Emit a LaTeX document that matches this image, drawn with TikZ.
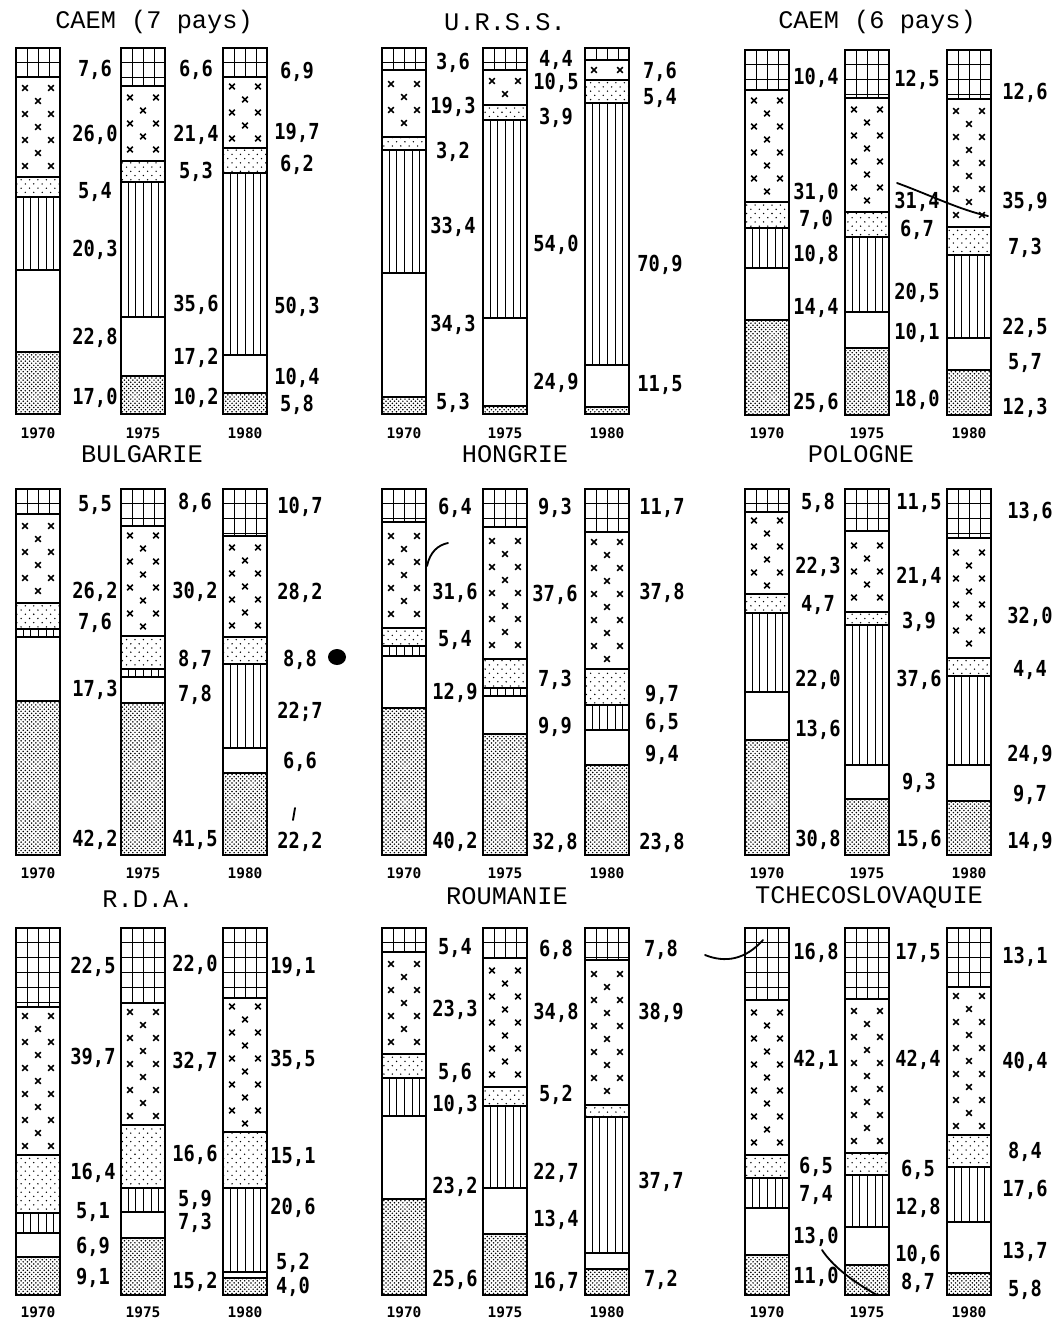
\documentclass[tikz,border=0pt]{standalone}
\usepackage{fontspec}
\usepackage{graphicx}
\usetikzlibrary{patterns}
\newfontfamily\numfont{DejaVu Sans Mono}
\newfontfamily\titfont{Liberation Mono}

\pgfdeclarepatternformonly{ddots}{\pgfqpoint{-0.7pt}{-0.7pt}}{\pgfqpoint{2.2pt}{2.2pt}}{\pgfqpoint{3pt}{3pt}}{%
  \pgfpathcircle{\pgfqpoint{0pt}{0pt}}{0.6pt}\pgfpathcircle{\pgfqpoint{1.5pt}{1.5pt}}{0.6pt}\pgfusepath{fill}}
\pgfdeclarepatternformonly{sdots}{\pgfqpoint{-0.7pt}{-0.7pt}}{\pgfqpoint{3.7pt}{3.7pt}}{\pgfqpoint{6pt}{6pt}}{%
  \pgfpathcircle{\pgfqpoint{0pt}{0pt}}{0.55pt}\pgfpathcircle{\pgfqpoint{3pt}{3pt}}{0.55pt}\pgfusepath{fill}}

\tikzset{
  gridln/.style={line width=0.7pt},
  vln/.style={line width=0.7pt},
  crossln/.style={line width=1.2pt},
  sepln/.style={line width=1.1pt},
  outln/.style={line width=1.4pt},
  num/.style={inner sep=0pt, font=\numfont\bfseries\fontsize{13.3}{14}\selectfont},
  yr/.style={inner sep=0pt, font=\numfont\bfseries\fontsize{10.3}{11}\selectfont},
  ttl/.style={inner sep=0pt, font=\titfont\fontsize{18}{20}\selectfont},
  stroke/.style={line width=1.3pt, line cap=round},
}

\newcommand\crs[2]{\draw[crossln] (#1-2.8,#2-2.8) -- (#1+2.8,#2+2.8) (#1-2.8,#2+2.8) -- (#1+2.8,#2-2.8);}

% #1 x, #2 top, #3 bottom, #4 G/X, #5 X/S, #6 S/V, #7 V/W, #8 W/D
\newcommand\drawbar[8]{%
  \pgfmathsetmacro\xr{#1+44}
  \begin{scope}
    \clip (#1,#2) rectangle (\xr,#4);
    \foreach \dx in {11,22,33} \draw[gridln] (#1+\dx,#2) -- (#1+\dx,#4);
    \foreach \dy in {14,29,...,134} \draw[gridln] (#1,#2+\dy) -- (\xr,#2+\dy);
  \end{scope}
  \pgfmathsetmacro\hx{#5-#4}
  \pgfmathtruncatemacro\nrow{max(1,floor((\hx-4)/13))}
  \pgfmathsetmacro\yzero{#4+(\hx-(\nrow-1)*13)/2}
  \foreach \k in {1,...,\nrow} {%
    \pgfmathsetmacro\yy{\yzero+(\k-1)*13}
    \ifodd\k\relax \crs{#1+9}{\yy}\crs{#1+35}{\yy}\else\crs{#1+22}{\yy}\fi
  }
  \fill[pattern=sdots] (#1,#5) rectangle (\xr,#6);
  \foreach \dx in {7,14,22,30,37} \draw[vln] (#1+\dx,#6) -- (#1+\dx,#7);
  \fill[pattern=ddots] (#1,#8) rectangle (\xr,#3);
  \draw[sepln] (#1,#4) -- (\xr,#4) (#1,#5) -- (\xr,#5) (#1,#6) -- (\xr,#6)
               (#1,#7) -- (\xr,#7) (#1,#8) -- (\xr,#8);
  \draw[outln] (#1,#2) rectangle (\xr,#3);
}

\newcommand\lbls[3]{\foreach \lab/\yy [count=\i] in {#3} {\node[num] (#1-\i) at (#2,\yy) {\scalebox{1}[1.18]{\lab}};}}

\begin{document}
\begin{tikzpicture}[x=0.025cm, y=-0.025cm]
\useasboundingbox (0,0) rectangle (1057,1323);
\fill[white] (0,0) rectangle (1057,1323);

% ---------- titles ----------
\node[ttl] (t1) at (154,22) {CAEM (7 pays)};
\node[ttl] (t2) at (505,22) {U.R.S.S.};
\node[ttl] (t3) at (877,22) {CAEM (6 pays)};
\node[ttl] (t4) at (142,454) {BULGARIE};
\node[ttl] (t5) at (515,454) {HONGRIE};
\node[ttl] (t6) at (861,454) {POLOGNE};
\node[ttl] (t7) at (148,899) {R.D.A.};
\node[ttl] (t8) at (507,896) {ROUMANIE};
\node[ttl] (t9) at (869,897) {TCHECOSLOVAQUIE};

% ---------- row 1 ----------
\drawbar{16}{48}{414}{77}{177}{197}{270}{352}
\drawbar{121}{48}{414}{86}{161}{182}{317}{376}
\drawbar{223}{48}{414}{77}{148}{173}{355}{393}
\drawbar{382}{48}{414}{70}{137}{150}{273}{397}
\drawbar{483}{48}{414}{70}{105}{120}{318}{406}
\drawbar{585}{48}{414}{60}{80}{103}{365}{407}
\drawbar{745}{50}{415}{90}{202}{228}{268}{320}
\drawbar{845}{50}{415}{98}{212}{237}{312}{348}
\drawbar{947}{50}{415}{99}{227}{255}{338}{370}

\lbls{a1}{95}{{7,6}/70,{26,0}/135,{5,4}/192,{20,3}/250,{22,8}/338,{17,0}/398}
\lbls{a2}{196}{{6,6}/70,{21,4}/135,{5,3}/172,{35,6}/305,{17,2}/358,{10,2}/398}
\lbls{a3}{297}{{6,9}/72,{19,7}/133,{6,2}/165,{50,3}/307,{10,4}/378,{5,8}/405}
\lbls{b1}{453}{{3,6}/63,{19,3}/107,{3,2}/152,{33,4}/227,{34,3}/325,{5,3}/403}
\lbls{b2}{556}{{4,4}/60,{10,5}/83,{3,9}/118,{54,0}/245,{24,9}/383}
\lbls{b3}{660}{{7,6}/72,{5,4}/98,{70,9}/265,{11,5}/385}
\lbls{c1}{816}{{10,4}/78,{31,0}/193,{7,0}/220,{10,8}/255,{14,4}/308,{25,6}/403}
\lbls{c2}{917}{{12,5}/80,{31,4}/202,{6,7}/230,{20,5}/293,{10,1}/333,{18,0}/400}
\lbls{c3}{1025}{{12,6}/93,{35,9}/202,{7,3}/248,{22,5}/328,{5,7}/363,{12,3}/408}

% ---------- row 2 ----------
\drawbar{16}{489}{855}{514}{603}{629}{637}{701}
\drawbar{121}{489}{855}{526}{636}{669}{677}{703}
\drawbar{223}{489}{855}{536}{637}{664}{748}{773}
\drawbar{382}{489}{855}{522}{628}{646}{656}{708}
\drawbar{483}{489}{855}{527}{659}{688}{696}{734}
\drawbar{585}{489}{855}{532}{669}{705}{730}{765}
\drawbar{745}{489}{855}{512}{594}{613}{692}{740}
\drawbar{845}{489}{855}{531}{612}{625}{765}{799}
\drawbar{947}{489}{855}{538}{658}{676}{765}{801}

\lbls{d1}{95}{{5,5}/505,{26,2}/592,{7,6}/623,{17,3}/690,{42,2}/840}
\lbls{d2}{195}{{8,6}/503,{30,2}/592,{8,7}/660,{7,8}/695,{41,5}/840}
\lbls{d3}{300}{{10,7}/507,{28,2}/593,{8,8}/660,{22;7}/712,{6,6}/762,{22,2}/842}
\lbls{e1}{455}{{6,4}/508,{31,6}/593,{5,4}/640,{12,9}/693,{40,2}/842}
\lbls{e2}{555}{{9,3}/508,{37,6}/595,{7,3}/680,{9,9}/727,{32,8}/843}
\lbls{e3}{662}{{11,7}/508,{37,8}/593,{9,7}/695,{6,5}/723,{9,4}/755,{23,8}/843}
\lbls{f1}{818}{{5,8}/503,{22,3}/567,{4,7}/605,{22,0}/680,{13,6}/730,{30,8}/840}
\lbls{f2}{919}{{11,5}/503,{21,4}/577,{3,9}/622,{37,6}/680,{9,3}/783,{15,6}/840}
\lbls{f3}{1030}{{13,6}/512,{32,0}/617,{4,4}/670,{24,9}/755,{9,7}/795,{14,9}/842}

% ---------- row 3 ----------
\drawbar{16}{928}{1295}{1007}{1155}{1213}{1233}{1257}
\drawbar{121}{928}{1295}{1003}{1125}{1188}{1212}{1238}
\drawbar{223}{928}{1295}{998}{1132}{1188}{1272}{1278}
\drawbar{382}{928}{1295}{952}{1054}{1078}{1116}{1199}
\drawbar{483}{928}{1295}{958}{1087}{1106}{1188}{1234}
\drawbar{585}{928}{1295}{960}{1105}{1117}{1253}{1269}
\drawbar{745}{928}{1295}{1000}{1155}{1178}{1208}{1255}
\drawbar{845}{928}{1295}{999}{1153}{1175}{1227}{1265}
\drawbar{947}{928}{1295}{987}{1135}{1167}{1222}{1273}

\lbls{g1}{93}{{22,5}/967,{39,7}/1058,{16,4}/1173,{5,1}/1212,{6,9}/1247,{9,1}/1278}
\lbls{g2}{195}{{22,0}/965,{32,7}/1062,{16,6}/1155,{5,9}/1200,{7,3}/1223,{15,2}/1282}
\lbls{g3}{293}{{19,1}/967,{35,5}/1060,{15,1}/1157,{20,6}/1208,{5,2}/1263,{4,0}/1287}
\lbls{h1}{455}{{5,4}/948,{23,3}/1010,{5,6}/1073,{10,3}/1105,{23,2}/1187,{25,6}/1280}
\lbls{h2}{556}{{6,8}/950,{34,8}/1013,{5,2}/1095,{22,7}/1173,{13,4}/1220,{16,7}/1282}
\lbls{h3}{661}{{7,8}/950,{38,9}/1013,{37,7}/1182,{7,2}/1280}
\lbls{i1}{816}{{16,8}/953,{42,1}/1060,{6,5}/1167,{7,4}/1195,{13,0}/1237,{11,0}/1277}
\lbls{i2}{918}{{17,5}/953,{42,4}/1060,{6,5}/1170,{12,8}/1208,{10,6}/1255,{8,7}/1283}
\lbls{i3}{1025}{{13,1}/957,{40,4}/1062,{8,4}/1152,{17,6}/1190,{13,7}/1252,{5,8}/1290}

% ---------- years ----------
\foreach \bx [count=\j] in {38,143,245,404,505,607,767,867,969} {
  \pgfmathtruncatemacro\m{mod(\j-1,3)}
  \ifcase\m\relax \def\yrtxt{1970}\or \def\yrtxt{1975}\or \def\yrtxt{1980}\fi
  \node[yr] (ya-\j) at (\bx,433) {\yrtxt};
  \node[yr] (yb-\j) at (\bx,873) {\yrtxt};
  \node[yr] (yc-\j) at (\bx,1312) {\yrtxt};
}

% ---------- marks on the sheet ----------
\draw[stroke] (897,183) .. controls (930,195) and (960,210) .. (988,216);
\draw[stroke] (427,566) .. controls (430,552) and (438,545) .. (448,543);
\draw[stroke] (705,955) .. controls (725,963) and (745,960) .. (763,940);
\draw[stroke] (822,1250) .. controls (832,1265) and (850,1280) .. (877,1295);
\draw[stroke] (295,808) -- (293,820);
\fill (337,657) ellipse (9 and 8);
\end{tikzpicture}
\end{document}
